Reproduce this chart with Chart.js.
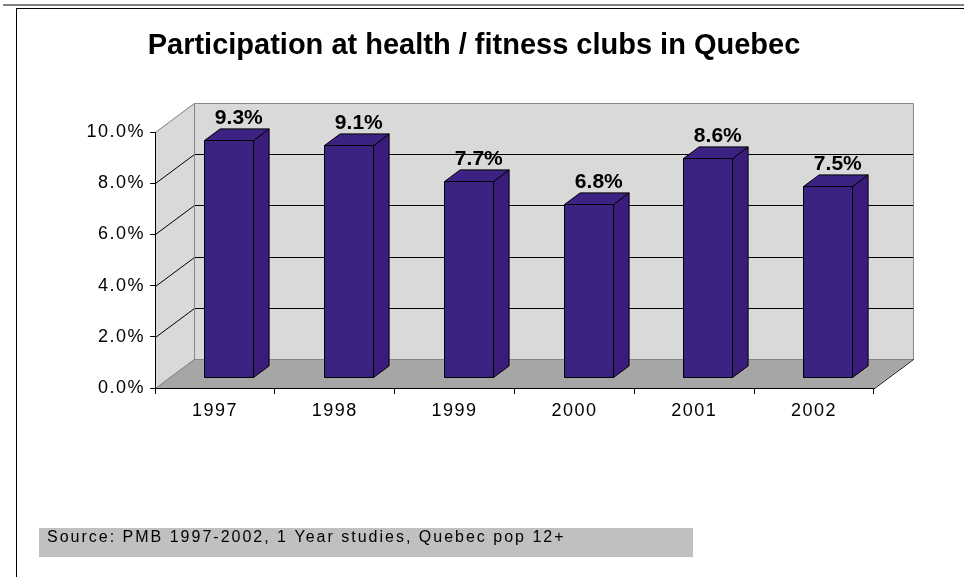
<!DOCTYPE html>
<html>
<head>
<meta charset="utf-8">
<title>Participation at health / fitness clubs in Quebec</title>
<script src="https://cdn.jsdelivr.net/npm/chart.js@4"></script>
<style>
  html, body { margin: 0; padding: 0; background: #fff; }
  #wrap { width: 964px; height: 577px; position: relative; }
</style>
</head>
<body>
<div id="wrap"><canvas id="chart"></canvas></div>
<script>
const TITLE = 'Participation at health / fitness clubs in Quebec';
const SOURCE = 'Source: PMB 1997-2002, 1 Year studies, Quebec pop 12+';
const years = ['1997', '1998', '1999', '2000', '2001', '2002'];
const participation = [9.3, 9.1, 7.7, 6.8, 8.6, 7.5];
const yTicks = [0, 2, 4, 6, 8, 10];

const FONT = '"Liberation Sans", Arial, sans-serif';
const DEPTH = { x: 39, y: -29 };   // depth of the 3D floor
const BAR_FRONT = 0.35;            // bars start this far into the depth
const BAR_DEPTH = 0.4;             // and are this deep
const COL = {
    wall: '#d9d9d9', floor: '#a6a6a6', edge: '#868686',
    front: '#3b2481', side: '#3a1c7b', top: '#3c2383',
};

function poly(ctx, pts, fill, stroke) {
    ctx.beginPath();
    pts.forEach(([x, y], i) => i ? ctx.lineTo(x, y) : ctx.moveTo(x, y));
    if (fill) {
        ctx.closePath();
        ctx.fillStyle = fill;
        ctx.fill();
    }
    if (stroke) {
        ctx.strokeStyle = stroke;
        ctx.lineWidth = 1;
        ctx.stroke();
    }
}

const box3d = {
    id: 'box3d',

    beforeDraw(chart) {
        const { ctx, chartArea: a, scales: { y } } = chart;
        const dx = DEPTH.x, dy = DEPTH.y;
        const L = a.left, R = a.right;
        const T = y.getPixelForValue(yTicks[yTicks.length - 1]);
        const B = y.getPixelForValue(0);

        ctx.save();
        ctx.letterSpacing = '0px';

        // page frame
        ctx.fillStyle = '#808080';
        ctx.fillRect(3, 4, chart.width, 2);
        ctx.fillStyle = '#000';
        ctx.fillRect(16, 8, chart.width, 1);
        ctx.fillRect(16, 8, 1, chart.height);

        // walls and floor
        poly(ctx, [[L + dx, T + dy], [R + dx, T + dy], [R + dx, B + dy], [L + dx, B + dy]], COL.wall);
        poly(ctx, [[L, T], [L + dx, T + dy], [L + dx, B + dy], [L, B]], COL.wall);
        poly(ctx, [[L, B], [R, B], [R + dx, B + dy], [L + dx, B + dy]], COL.floor);

        ctx.translate(0.5, 0.5);
        yTicks.slice(1, -1).forEach(v => {
            const py = Math.round(y.getPixelForValue(v));
            poly(ctx, [[L, py], [L + dx, py + dy], [R + dx, py + dy]], null, '#000');
        });

        poly(ctx, [[L, T], [L + dx, T + dy], [R + dx, T + dy], [R + dx, B + dy]], null, COL.edge);
        poly(ctx, [[L + dx, T + dy], [L + dx, B + dy]], null, COL.edge);
        poly(ctx, [[L, B], [L + dx, B + dy], [R + dx, B + dy]], null, COL.edge);
        poly(ctx, [[R, B], [R + dx, B + dy]], null, '#000');
        ctx.restore();

        // axis labels are spaced out in the original
        ctx.letterSpacing = '1.5px';
    },

    afterDatasetsDraw(chart) {
        const ctx = chart.ctx;
        const meta = chart.getDatasetMeta(0);
        const fx = DEPTH.x * BAR_FRONT, fy = DEPTH.y * BAR_FRONT;
        const ddx = DEPTH.x * BAR_DEPTH, ddy = DEPTH.y * BAR_DEPTH;

        ctx.save();
        ctx.letterSpacing = '0px';
        ctx.lineJoin = 'miter';

        meta.data.forEach((bar, i) => {
            const l = Math.round(bar.x - bar.width / 2 + fx) + 0.5;
            const r = Math.round(bar.x + bar.width / 2 + fx) + 0.5;
            const t = Math.round(bar.y + fy) + 0.5;
            const b = Math.round(bar.base + fy) + 0.5;

            poly(ctx, [[r, t], [r + ddx, t + ddy], [r + ddx, b + ddy], [r, b]], COL.side, '#000');
            poly(ctx, [[l, t], [l + ddx, t + ddy], [r + ddx, t + ddy], [r, t]], COL.top, '#000');
            poly(ctx, [[l, t], [r, t], [r, b], [l, b]], COL.front, '#000');

            const v = chart.data.datasets[0].data[i];
            ctx.font = 'bold 21px ' + FONT;
            ctx.fillStyle = '#000';
            ctx.textAlign = 'center';
            ctx.textBaseline = 'alphabetic';
            ctx.fillText(v.toFixed(1) + '%', (l + r) / 2 + ddx / 2 + 2, t - 17);
        });
        ctx.restore();
    },

    afterDraw(chart) {
        const ctx = chart.ctx;
        ctx.save();
        ctx.letterSpacing = '0px';
        ctx.fillStyle = '#000';
        ctx.font = 'bold 29px ' + FONT;
        ctx.textAlign = 'center';
        ctx.textBaseline = 'middle';
        ctx.fillText(TITLE, 474, 46);

        ctx.fillStyle = '#c0c0c0';
        ctx.fillRect(39, 528, 654, 29);
        ctx.fillStyle = '#000';
        ctx.letterSpacing = '2px';
        ctx.font = '16px ' + FONT;
        ctx.textAlign = 'left';
        ctx.textBaseline = 'alphabetic';
        ctx.fillText(SOURCE, 47, 542);
        ctx.restore();
    },
};

new Chart(document.getElementById('chart'), {
    type: 'bar',
    data: {
        labels: years,
        datasets: [{
            data: participation,
            backgroundColor: 'rgba(0,0,0,0)',
            borderWidth: 0,
            categoryPercentage: 1,
            barPercentage: 0.41,
        }],
    },
    options: {
        responsive: true,
        maintainAspectRatio: false,
        animation: false,
        layout: { padding: { left: 0, right: 90, top: 132, bottom: 0 } },
        plugins: {
            legend: { display: false },
            tooltip: { enabled: false },
        },
        scales: {
            x: {
                offset: true,
                grid: { offset: true, drawOnChartArea: false, tickLength: 6, color: '#000' },
                border: { color: '#000' },
                ticks: { color: '#000', font: { family: FONT, size: 18 }, padding: 6, maxRotation: 0 },
                afterFit: s => { s.height = 189; },
            },
            y: {
                min: 0,
                max: 10,
                grid: { drawOnChartArea: false, tickLength: 5, color: '#000' },
                border: { color: '#000' },
                ticks: {
                    stepSize: 2,
                    color: '#000',
                    font: { family: FONT, size: 18 },
                    padding: 5,
                    callback: v => v.toFixed(1) + '%',
                },
                afterFit: s => { s.width = 155; },
            },
        },
    },
    plugins: [box3d],
});
</script>
</body>
</html>
